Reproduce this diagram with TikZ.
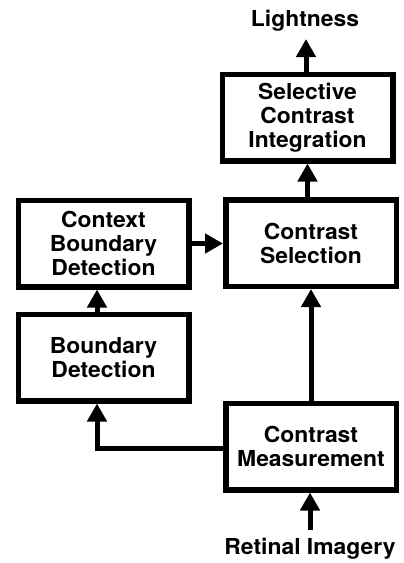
\documentclass[tikz,border=0pt]{standalone}
\usepackage{fontspec}
\setmainfont{TeX Gyre Heros}[FakeStretch=1.04]
\usetikzlibrary{arrows.meta}
\newcommand\labelfont{\bfseries\fontsize{22}{24}\selectfont}
\tikzset{
  stage/.style={draw, line width=5.5pt, minimum width=170.5pt, minimum height=86.5pt,
                align=center, inner sep=0pt, font=\labelfont},
  flow/.style={line width=5pt, -{Triangle[width=19pt,length=18pt]}},
  term/.style={font=\labelfont, inner sep=0pt}
}
\begin{document}
\begin{tikzpicture}[x=1pt,y=-1pt]
\useasboundingbox (0,0) rectangle (404,563);

% processing stages
\node[stage] (sci) at (307.5,117.5) {Selective\\Contrast\\Integration};
\node[stage] (cs)  at (311,243)   {Contrast\\Selection};
\node[stage] (cbd) at (103.5,243.5) {Context\\Boundary\\Detection};
\node[stage] (bd)  at (103.5,357.5) {Boundary\\Detection};
\node[stage] (cm)  at (311,446.5) {Contrast\\Measurement};

% input and output labels
\node[term] (light) at (305,21) {Lightness};
\node[term] (ret)   at (310,549) {Retinal Imagery};

% helper points for the connectors
\coordinate (lighttip) at (306,39);
\coordinate (retfoot)  at (310,530);
\coordinate (bendpt)   at (97,448);

% connectors
\draw[flow] (sci.north -| lighttip) -- (lighttip);
\draw[flow] (cs.north -| sci) -- (sci.south);
\draw[flow] (cbd.east) -- (cbd.east -| cs.west);
\draw[flow] (bd.north -| bendpt) -- (cbd.south -| bendpt);
\draw[flow] (cm) -- (cs);
\draw[flow] (cm.west |- bendpt) -- (bendpt) -- (bd.south -| bendpt);
\draw[flow] (retfoot) -- (cm.south -| retfoot);
\end{tikzpicture}
\end{document}
